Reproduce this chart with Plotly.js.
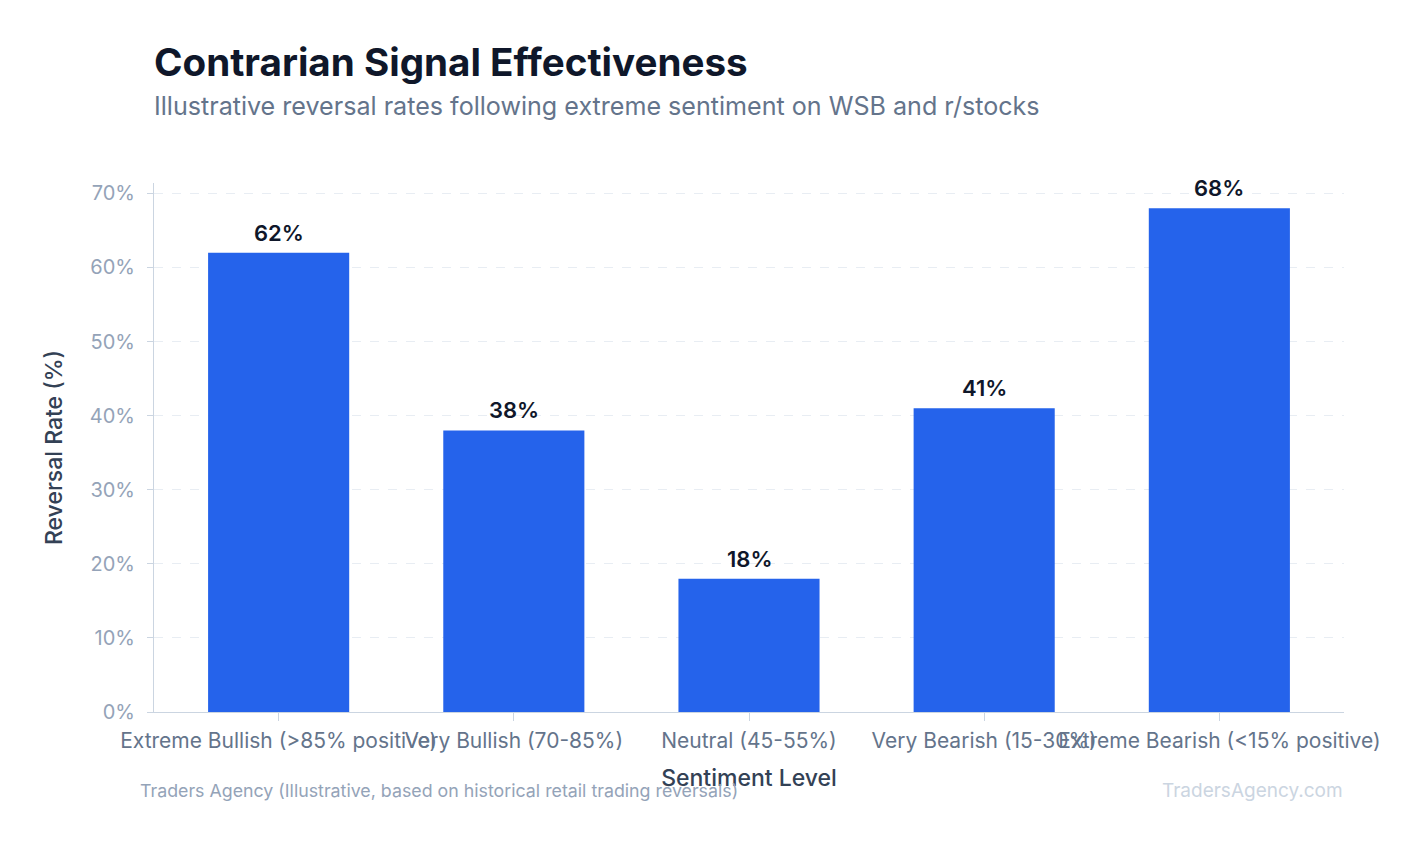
<!DOCTYPE html>
<html><head><meta charset="utf-8">
<script src="https://cdn.plot.ly/plotly-3.0.1.min.js"></script>
<style>html,body{margin:0;padding:0;background:#fff}#chart{width:1424px;height:845px}</style>
</head><body><div id="chart"></div>
<script>
const categories = ["Extreme Bullish (>85% positive)", "Very Bullish (70-85%)", "Neutral (45-55%)", "Very Bearish (15-30%)", "Extreme Bearish (<15% positive)"];
const reversalRates = [62, 38, 18, 41, 68];
const barLabels = reversalRates.map(v => v + "%");
const yTickVals = [0, 10, 20, 30, 40, 50, 60, 70];
const yTickText = yTickVals.map(v => v + "%");

const font = "Inter, 'Noto Sans', sans-serif";
const trace = {
  type: "bar", x: categories, y: reversalRates,
  marker: {color: "#2563eb"},
  hoverinfo: "none"
};
const layout = {
  width: 1424, height: 845,
  margin: {l: 154, r: 80, t: 183, b: 133},
  paper_bgcolor: "#fff", plot_bgcolor: "#fff",
  bargap: 0.4,
  font: {family: font},
  showlegend: false,
  xaxis: {
    type: "category", range: [-0.53, 4.53],
    tickangle: 0,
    showline: true, linecolor: "#cbd5e1", linewidth: 1,
    ticks: "outside", ticklen: 8, tickcolor: "#cbd5e1",
    ticklabelstandoff: 2,
    tickfont: {family: font, size: 21, color: "#64748b"},
    title: {text: "Sentiment Level", font: {family: font, size: 23, color: "#334155", weight: 500}, standoff: 17},
    automargin: false
  },
  yaxis: {
    range: [0, 71.4],
    tickvals: yTickVals, ticktext: yTickText,
    showline: true, linecolor: "#cbd5e1", linewidth: 1,
    ticks: "outside", ticklen: 6, tickcolor: "#cbd5e1",
    ticklabelstandoff: 8,
    showgrid: true, gridcolor: "#e8edf3", griddash: "dash", gridwidth: 1,
    zeroline: false,
    tickfont: {family: font, size: 20, color: "#94a3b8"},
    title: {text: "Reversal Rate (%)", font: {family: font, size: 23, color: "#334155", weight: 500}, standoff: 20},
    automargin: false
  },
  annotations: []
};
const H = 845, W = 1424, pt = 183, pb = 133, pl = 154, pr = 80;
const ph = H - pt - pb, pw = W - pl - pr;
function py(pix){ return (H - pb - pix) / ph; }
function px(pix){ return (pix - pl) / pw; }
// bar value labels, from the data
categories.forEach((c, i) => {
  layout.annotations.push({x: c, y: reversalRates[i], xref: "x", yref: "y", text: barLabels[i],
    showarrow: false, yanchor: "bottom", yshift: 5,
    font: {family: font, size: 22, color: "#0f172a", weight: 600}});
});
layout.annotations.push(
  {text: "Contrarian Signal Effectiveness", showarrow: false, xref:"paper", yref:"paper", x: px(152), y: py(62), xanchor:"left", yanchor:"middle",
   font: {family: font, size: 38.6, color: "#0f172a", weight: 700}},
  {text: "Illustrative reversal rates following extreme sentiment on WSB and r/stocks", showarrow: false, xref:"paper", yref:"paper", x: px(152), y: py(106), xanchor:"left", yanchor:"middle",
   font: {family: font, size: 25.1, color: "#64748b"}},
  {text: "Traders Agency (Illustrative, based on historical retail trading reversals)", showarrow: false, xref:"paper", yref:"paper", x: px(138), y: py(790), xanchor:"left", yanchor:"middle",
   font: {family: font, size: 17.8, color: "#94a3b8"}},
  {text: "TradersAgency.com", showarrow: false, xref:"paper", yref:"paper", x: px(1345), y: py(790), xanchor:"right", yanchor:"middle",
   font: {family: font, size: 19, color: "#cbd5e1"}}
);
Plotly.newPlot("chart", [trace], layout, {displayModeBar: false, staticPlot: true});
</script></body></html>
